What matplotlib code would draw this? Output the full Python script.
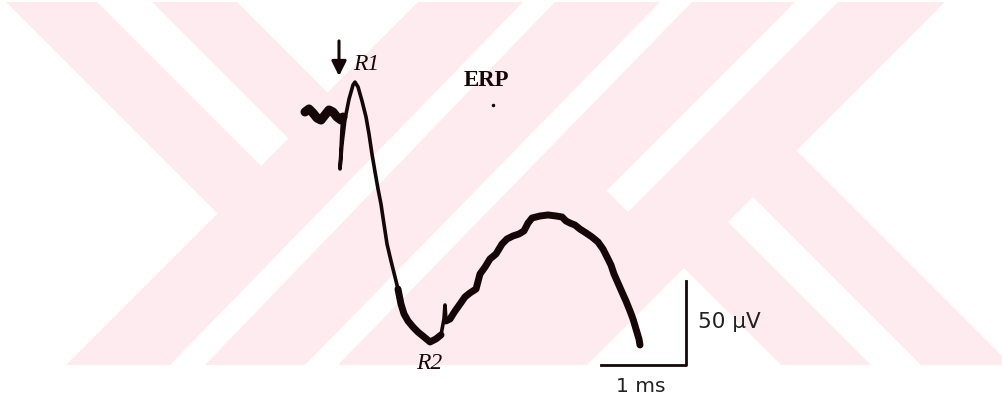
import matplotlib
matplotlib.use('Agg')
import matplotlib.pyplot as plt
from matplotlib.patches import Polygon, Rectangle


# Forma de onda do ERP: tempo (ms) após o estímulo e amplitude (µV)
tempo_ms = [-0.400, -0.353, -0.306, -0.259, -0.212, -0.165, -0.118, -0.071, -0.024, 0.024,
            0.047, 0.035, 0.024, 0.012, 0.035, 0.071, 0.118, 0.165, 0.188, 0.224,
            0.271, 0.318, 0.353, 0.388, 0.424, 0.459, 0.494, 0.529, 0.565, 0.612,
            0.659, 0.694, 0.729, 0.765, 0.812, 0.871, 0.929, 1.000, 1.071, 1.141,
            1.200, 1.235, 1.247, 1.259, 1.306, 1.365, 1.424, 1.482, 1.541, 1.612,
            1.659, 1.718, 1.776, 1.847, 1.918, 1.976, 2.047, 2.118, 2.176, 2.224,
            2.271, 2.365, 2.459, 2.553, 2.624, 2.671, 2.718, 2.776, 2.835, 2.906,
            2.976, 3.047, 3.106, 3.153, 3.200, 3.235, 3.282, 3.329, 3.376, 3.424,
            3.459, 3.494, 3.529, 3.541]
amplitude_uv = [1.2, 3.0, 0.6, -2.4, -3.6, -0.6, 2.4, 1.2, -1.8, -3.6,
                -1.8, -8.9, -20.8, -32.7, -17.9, -3.0, 8.9, 17.3, 19.0, 16.1,
                7.7, -1.8, -11.9, -23.8, -34.5, -44.6, -53.6, -65.5, -77.4, -87.5,
                -97.0, -104.2, -113.1, -119.0, -123.2, -126.8, -129.8, -132.7, -135.7, -133.9,
                -131.5, -122.0, -113.7, -123.2, -122.0, -117.3, -113.1, -108.9, -106.5, -104.2,
                -95.2, -91.1, -86.3, -83.3, -77.4, -74.4, -72.6, -71.4, -69.6, -64.9,
                -61.9, -60.7, -60.1, -60.7, -61.3, -63.7, -64.9, -66.1, -68.5, -70.8,
                -73.2, -76.2, -80.4, -85.1, -89.9, -95.2, -100.6, -106.0, -111.3, -117.3,
                -122.0, -128.0, -133.9, -137.5]

# Barra de escala
escala_ms = 1.0
escala_uv = 50.0
escala_origem = (4.082, -149.4)

# Rótulos
rotulos = ['R1', 'R2', 'ERP']
rotulos_pos = [(0.165, 29.8), (1.06, -148.2), (1.73, 20.8)]

# conversão pixel -> dados da figura digitalizada
PX_MS = 85.0
PX_UV = 84.0 / 50.0
X0, Y0 = 339.0, 115.0
LARG, ALT = 1003, 402

ROSA = '#fdebef'
TINTA = '#150707'


def desenhar_marca_dagua(fig):
    """Fundo rosa com faixas diagonais (marca d'água do documento original)."""
    ax = fig.add_axes([0, 0, 1, 1])
    ax.set_xlim(0, LARG)
    ax.set_ylim(ALT, 0)
    ax.axis('off')
    ax.add_patch(Rectangle((0, 3), LARG, 363, color=ROSA, lw=0))
    brancos = [
        [(217.5, 214.5), (-300, -303), (-300, 732)],
        [(261, 167), (288.5, 139.5), (-111.5, -260.5), (-139, -233)],
        [(327.5, 93.5), (-172.5, -406.5), (827.5, -406.5)],
        [(523, 3), (555, 3), (205, 366), (170, 366)],
        [(660, 3), (692, 3), (338, 366), (305, 366)],
        [(795, 3), (838, 3), (628, 213), (606.5, 191.5)],
        [(796.5, 151.5), (1300, -352), (1300, 655)],
        [(728, 223), (753, 198), (1253, 698), (1228, 723)],
        [(684, 269), (184, 769), (1184, 769)],
    ]
    for pts in brancos:
        ax.add_patch(Polygon(pts, closed=True, color='white', lw=0))


def plotar_erp(fig):
    ax = fig.add_axes([0, 0, 1, 1])
    ax.patch.set_alpha(0)
    ax.set_xlim(-X0 / PX_MS, (LARG - X0) / PX_MS)
    ax.set_ylim(-(ALT - Y0) / PX_UV, Y0 / PX_UV)
    ax.axis('off')

    # traço completo (fino) e trechos mais espessos
    ax.plot(tempo_ms, amplitude_uv, color=TINTA, lw=2.6, solid_capstyle='round')
    ax.plot(tempo_ms[:11], amplitude_uv[:11], color=TINTA, lw=6.5, solid_capstyle='round')
    ax.plot(tempo_ms[31:41], amplitude_uv[31:41], color=TINTA, lw=5.0, solid_capstyle='round')
    ax.plot(tempo_ms[43:], amplitude_uv[43:], color=TINTA, lw=5.0, solid_capstyle='round')

    # seta do estímulo
    ax.annotate('', xy=(0, 22.6), xytext=(0, 43.5),
                arrowprops=dict(arrowstyle='-|>', color=TINTA, lw=2.2,
                                mutation_scale=22, shrinkA=0, shrinkB=0))

    # barra de escala
    x0, y0 = escala_origem
    ax.plot([x0 - escala_ms, x0, x0], [y0, y0, y0 + escala_uv], color=TINTA, lw=2.0)
    ax.text(x0 + 0.14, y0 + escala_uv * 0.52, '50 µV', fontsize=15.5, color='#222222',
            ha='left', va='center', family='DejaVu Sans')
    ax.text(x0 - escala_ms * 0.53, y0 - 12.5, '1 ms', fontsize=14.5, color='#222222',
            ha='center', va='center', family='DejaVu Sans')

    # rótulos dos picos
    ax.text(*rotulos_pos[0], rotulos[0], fontsize=17, style='italic', color=TINTA,
            ha='left', va='center', family='Liberation Serif')
    ax.text(*rotulos_pos[1], rotulos[1], fontsize=17, style='italic', color=TINTA,
            ha='center', va='center', family='Liberation Serif')
    ax.text(*rotulos_pos[2], rotulos[2], fontsize=16.5, weight='bold', color=TINTA,
            ha='center', va='center', family='Liberation Serif')
    ax.plot([1.81], [5.4], 'o', color=TINTA, ms=1.5)


if __name__ == "__main__":
    fig = plt.figure(figsize=(LARG / 100, ALT / 100), dpi=100)
    desenhar_marca_dagua(fig)
    plotar_erp(fig)
    fig.savefig('out.png', dpi=100, facecolor='white')
